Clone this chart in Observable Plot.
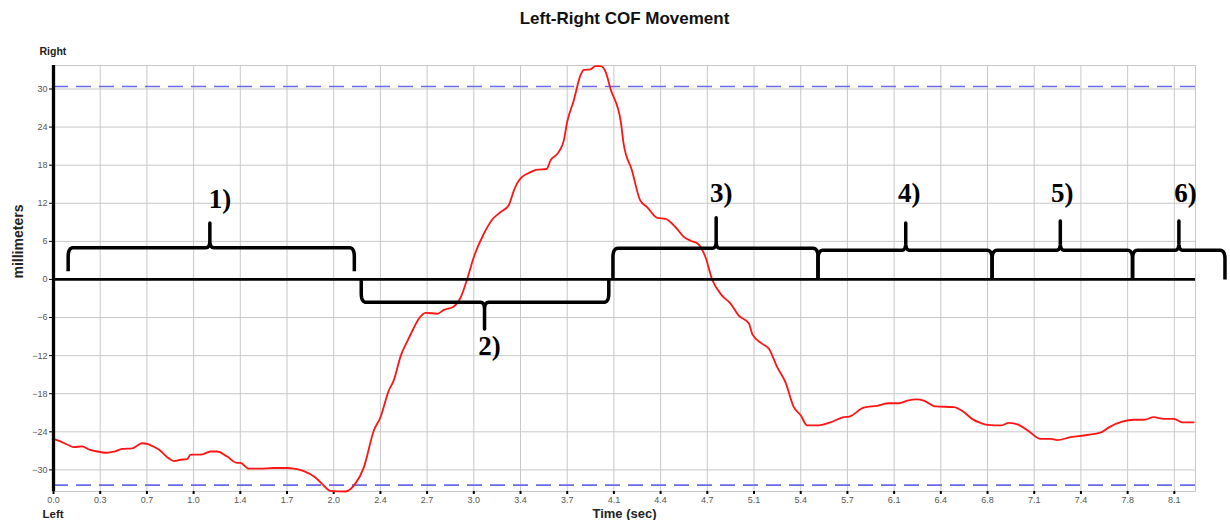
<!DOCTYPE html>
<html><head><meta charset="utf-8">
<script src="https://cdn.jsdelivr.net/npm/d3@7"></script>
<script src="https://cdn.jsdelivr.net/npm/@observablehq/plot@0.6"></script>
<style>body{margin:0;background:#fff} svg{display:block}</style>
</head><body><div id="chart"></div>
<script>
const title = "Left-Right COF Movement";
const yAxisLabel = "millimeters";
const xAxisLabel = "Time (sec)";
const topSideLabel = "Right";
const bottomSideLabel = "Left";

const xTickLabels = ["0.0","0.3","0.7","1.0","1.4","1.7","2.0","2.4","2.7","3.0","3.4","3.7","4.1","4.4","4.7","5.1","5.4","5.7","6.1","6.4","6.8","7.1","7.4","7.8","8.1"];
const xTickStep = 0.3375;
const yTicks = [-30,-24,-18,-12,-6,0,6,12,18,24,30];
const limits = [30.4, -32.4];

const timeSec = [0.000,0.050,0.099,0.147,0.207,0.260,0.316,0.388,0.440,0.496,0.569,0.641,0.677,0.720,0.761,0.822,0.870,0.918,0.966,0.990,1.062,1.135,1.183,1.255,1.328,1.351,1.411,1.496,1.592,1.689,1.737,1.809,1.893,1.954,2.000,2.110,2.180,2.243,2.315,2.363,2.423,2.459,2.510,2.560,2.600,2.640,2.688,2.773,2.821,2.893,2.941,2.990,3.037,3.110,3.170,3.230,3.290,3.327,3.363,3.447,3.495,3.563,3.592,3.652,3.688,3.712,3.760,3.809,3.833,3.880,3.917,3.953,3.990,4.025,4.100,4.120,4.180,4.240,4.290,4.363,4.423,4.495,4.555,4.604,4.652,4.712,4.760,4.830,4.893,4.953,5.025,5.050,5.120,5.170,5.230,5.290,5.350,5.400,5.447,5.520,5.615,5.710,5.750,5.856,5.953,6.037,6.110,6.170,6.240,6.290,6.374,6.507,6.580,6.640,6.700,6.750,6.845,6.905,6.976,7.048,7.133,7.205,7.254,7.350,7.470,7.579,7.627,7.723,7.807,7.880,7.952,8.024,8.097,8.157,8.240];
const cofMm = [-25.1,-25.5,-26.0,-26.4,-26.3,-26.8,-27.1,-27.3,-27.1,-26.7,-26.6,-25.8,-25.9,-26.3,-26.8,-28.0,-28.6,-28.4,-28.3,-27.6,-27.6,-27.1,-27.1,-27.9,-28.9,-28.9,-29.8,-29.8,-29.7,-29.7,-29.8,-30.2,-31.2,-32.5,-33.3,-33.4,-32.2,-29.6,-23.8,-21.7,-17.5,-15.9,-12.0,-9.6,-7.8,-6.2,-5.25,-5.4,-4.8,-4.25,-2.9,0.1,3.5,7.2,9.4,10.6,11.7,14.0,15.6,16.9,17.3,17.4,18.75,20.1,21.9,24.8,28.2,32.2,33.0,33.1,33.6,33.6,32.7,30.05,24.8,21.4,17.2,12.45,11.4,9.7,9.55,8.25,6.7,6.1,5.7,3.5,0.0,-2.5,-3.8,-5.7,-6.9,-8.6,-10.1,-10.9,-13.8,-16.2,-20.1,-21.4,-23.0,-23.0,-22.5,-21.7,-21.6,-20.2,-19.9,-19.5,-19.5,-19.1,-18.9,-19.1,-20.0,-20.1,-20.9,-22.0,-22.6,-22.9,-23.0,-22.6,-22.9,-23.9,-25.1,-25.1,-25.3,-24.85,-24.5,-24.0,-23.3,-22.4,-22.1,-22.1,-21.7,-21.95,-21.95,-22.5,-22.5];

// phase annotation brackets
const phaseLabels = ["1)","2)","3)","4)","5)","6)"];
const phaseStart = [0.106, 2.224, 4.043, 5.525, 6.783, 7.798];
const phaseEnd   = [2.174, 4.013, 5.525, 6.783, 7.798, 8.466];
const phaseCusp  = [1.130, 3.115, 4.789, 6.159, 7.276, 8.133];
const phaseBase  = [1.3, 0, 0, 0, 0, 0];
const phaseTop   = [5.0, -3.6, 4.9, 4.6, 4.6, 4.6];
const phaseTip   = [8.9, -7.8, 9.7, 8.9, 9.2, 9.2];
const phaseLabelX = [1.203, 3.151, 4.826, 6.184, 7.290, 8.180];
const phaseLabelY = [12.6, -10.5, 13.5, 13.5, 13.5, 13.5];

const xDomain = [0, 8.253];
const yDomain = [-33.4, 33.7];

const series = timeSec.map((t, i) => ({t, v: cofMm[i]}));
const xTickPos = xTickLabels.map((_, i) => i * xTickStep);

function bracketPath(k) {
  const x0 = phaseStart[k], x1 = phaseEnd[k], xc = phaseCusp[k];
  const yb = phaseBase[k], yt = phaseTop[k], yc = phaseTip[k];
  const s = Math.sign(yt - yb);
  const rx = 0.036, ry = 1.4, cw = 0.03, cr = 1.1;
  const pts = [];
  const quad = (p0, c, p1) => {
    for (let j = 0; j <= 8; j++) {
      const u = j / 8;
      pts.push([(1-u)*(1-u)*p0[0] + 2*(1-u)*u*c[0] + u*u*p1[0],
                (1-u)*(1-u)*p0[1] + 2*(1-u)*u*c[1] + u*u*p1[1]]);
    }
  };
  pts.push([x0, yb]);
  quad([x0, yt - s*ry], [x0, yt], [x0 + rx, yt]);
  quad([xc - cw, yt], [xc, yt], [xc, yt + s*cr]);
  pts.push([xc, yc]);
  quad([xc, yt + s*cr], [xc, yt], [xc + cw, yt]);
  quad([x1 - rx, yt], [x1, yt], [x1, yt - s*ry]);
  pts.push([x1, yb]);
  return pts.map(([x, y]) => ({k, x, y}));
}
const bracketData = phaseLabels.flatMap((_, k) => bracketPath(k));
const labelData = phaseLabels.map((l, k) => ({l, x: phaseLabelX[k], y: phaseLabelY[k]}));

const chart = Plot.plot({
  width: 1230, height: 520,
  marginLeft: 53, marginRight: 35, marginTop: 65, marginBottom: 29,
  style: {fontFamily: "'Liberation Sans', Arial, sans-serif", background: "#fff", overflow: "visible"},
  x: {domain: xDomain},
  y: {domain: yDomain},
  marks: [
    Plot.gridX(xTickPos, {stroke: "#c8c8c8", strokeOpacity: 1}),
    Plot.gridY(yTicks, {stroke: "#c8c8c8", strokeOpacity: 1}),
    Plot.frame({stroke: "#c8c8c8"}),
    Plot.ruleY(limits, {stroke: "#6a6ae6", strokeWidth: 1.6, strokeDasharray: "15,8"}),
    Plot.axisX({ticks: xTickPos, tickFormat: d => xTickLabels[Math.round(d / xTickStep)], tickSize: 3, tickPadding: 2, fontSize: 9, fill: "#555", stroke: "#000", strokeWidth: 2, label: null}),
    Plot.axisY({ticks: yTicks, tickSize: 4, tickPadding: 2, fontSize: 9, fill: "#555", stroke: "#000", label: null}),
    Plot.line(series, {x: "t", y: "v", stroke: "#ff1414", strokeWidth: 1.8, curve: "monotone-x"}),
    Plot.ruleX([0], {stroke: "#000", strokeWidth: 3.3}),
    Plot.ruleY([0], {stroke: "#000", strokeWidth: 2.8}),
    Plot.line(bracketData, {x: "x", y: "y", z: "k", stroke: "#000", strokeWidth: 3.5, strokeLinejoin: "round", strokeLinecap: "butt"}),
    Plot.text(labelData, {x: "x", y: "y", text: "l", fontFamily: "'Liberation Serif', 'Times New Roman', serif", fontWeight: "bold", fontSize: 27, fill: "#000", lineAnchor: "middle"}),
    Plot.text([title], {frameAnchor: "top", dy: -42, lineAnchor: "bottom", fontSize: 17, fontWeight: "bold", fill: "#111"}),
    Plot.text([topSideLabel], {frameAnchor: "top-left", dx: -14, dy: -11, textAnchor: "start", lineAnchor: "bottom", fontSize: 10.5, fontWeight: "bold", fill: "#222"}),
    Plot.text([bottomSideLabel], {frameAnchor: "bottom-left", dx: -11, dy: 26, textAnchor: "start", lineAnchor: "bottom", fontSize: 11.5, fontWeight: "bold", fill: "#222"}),
    Plot.text([xAxisLabel], {frameAnchor: "bottom", dy: 26, lineAnchor: "bottom", fontSize: 13, fontWeight: "bold", fill: "#222"}),
    Plot.text([yAxisLabel], {frameAnchor: "left", dx: -35, rotate: -90, lineAnchor: "middle", fontSize: 14, fontWeight: "bold", fill: "#222"})
  ]
});
document.getElementById("chart").append(chart);
</script>
</body></html>
